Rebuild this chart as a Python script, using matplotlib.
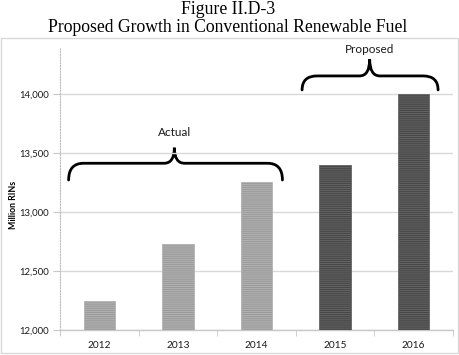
import matplotlib.pyplot as plt
import numpy as np
from matplotlib.path import Path
from matplotlib.patches import PathPatch, Rectangle

years = ["2012", "2013", "2014", "2015", "2016"]
rins = [12240, 12730, 13250, 13400, 14000]
is_proposed = [False, False, False, True, True]
y_ticks = [12000, 12500, 13000, 13500, 14000]


def brace(ax, x0, x1, xc, y_tip, y_mid, y_peak, end_dx=0.19, mid_dx=0.13):
    # curly brace made of quadratic bezier pieces, data coords
    verts = [
        (x0, y_tip), (x0, y_mid), (x0 + end_dx, y_mid),
        (xc - mid_dx, y_mid),
        (xc, y_mid), (xc, y_peak),
        (xc, y_mid), (xc + mid_dx, y_mid),
        (x1 - end_dx, y_mid),
        (x1, y_mid), (x1, y_tip),
    ]
    codes = [Path.MOVETO, Path.CURVE3, Path.CURVE3, Path.LINETO,
             Path.CURVE3, Path.CURVE3, Path.CURVE3, Path.CURVE3,
             Path.LINETO, Path.CURVE3, Path.CURVE3]
    ax.add_patch(PathPatch(Path(verts, codes), fill=False, lw=2.0,
                           edgecolor="black", clip_on=False, capstyle="round"))


plt.rcParams["hatch.linewidth"] = 0.6

fig = plt.figure(figsize=(4.6, 3.55), dpi=100)
ax = fig.add_axes([0.1304, 0.0713, 0.8544, 0.7935])

x = np.arange(len(years))
for xi, v, prop in zip(x, rins, is_proposed):
    face = "#474747" if prop else "#9c9c9c"
    hatch_c = "#686868" if prop else "#b4b4b4"
    ax.bar(xi, v - 12000, bottom=12000, width=0.4, color=face,
           edgecolor=hatch_c, hatch="--------", linewidth=0.6, zorder=3)

ax.set_xlim(-0.5, len(years) - 0.5)
ax.set_ylim(12000, 14390)
ax.set_yticks(y_ticks)
ax.set_yticklabels([f"{t:,}" for t in y_ticks])
ax.set_xticks(x)
ax.set_xticklabels(years)
ax.set_xticks(np.arange(-0.5, len(years)), minor=True)

ax.yaxis.grid(True, color="#d9d9d9", lw=1.0, zorder=0)
for s in ["top", "right"]:
    ax.spines[s].set_visible(False)
ax.spines["left"].set_linestyle((0, (1, 1.5)))
ax.spines["left"].set_color("#bdbdbd")
ax.spines["left"].set_linewidth(0.8)
ax.spines["bottom"].set_color("#c8c8c8")
ax.spines["bottom"].set_linewidth(1.0)

ax.tick_params(axis="x", which="major", length=0, pad=8)
ax.tick_params(axis="x", which="minor", length=4, color="#c8c8c8", direction="out")
ax.tick_params(axis="y", length=5, color="#c8c8c8", pad=3)
for lab in ax.get_xticklabels():
    lab.set_fontfamily("Lato")
    lab.set_fontsize(7.3)
    lab.set_color("#1a1a1a")
for lab in ax.get_yticklabels():
    lab.set_fontfamily("Lato")
    lab.set_fontsize(6.9)
    lab.set_color("#1a1a1a")

# annotation braces
brace(ax, -0.39, 2.33, 0.955, 13270, 13412, 13544)
ax.text(0.955, 13675, "Actual", ha="center", va="center", fontsize=8.5,
        family="Lato", color="#1a1a1a")
brace(ax, 2.58, 4.31, 3.44, 14034, 14153, 14294)
ax.text(3.44, 14379, "Proposed", ha="center", va="center", fontsize=8.5,
        family="Lato", color="#1a1a1a", clip_on=False)

fig.text(14 / 460, 1 - 205 / 355, "Million RINs", rotation=90, ha="center",
         va="center", fontsize=6.3, fontweight="bold", family="Lato")

fig.text(228 / 460, 1 - 9 / 355, "Figure II.D-3", ha="center", va="center",
         fontsize=12.7, family="Liberation Serif")
fig.text(228 / 460, 1 - 27 / 355, "Proposed Growth in Conventional Renewable Fuel",
         ha="center", va="center", fontsize=12.7, family="Liberation Serif")

# chart frame
fig.add_artist(Rectangle((1 / 460, 2 / 355), 457 / 460, 1 - 37.7 / 355 - 2 / 355,
                         transform=fig.transFigure, fill=False,
                         edgecolor="#d9d9d9", lw=1.0))

fig.savefig("out.png", dpi=100)
